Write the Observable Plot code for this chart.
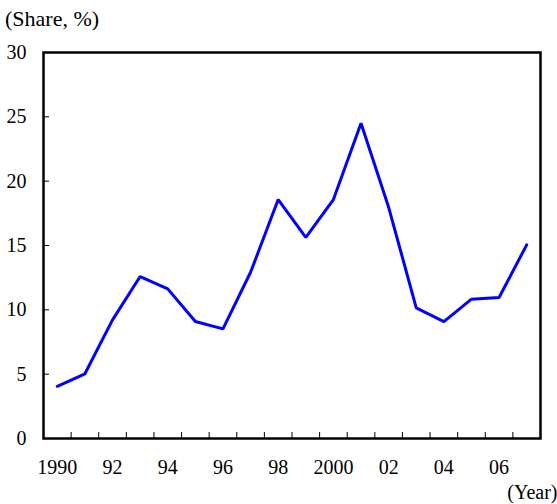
<!DOCTYPE html>
<html>
<head>
<meta charset="utf-8">
<script src="https://cdn.jsdelivr.net/npm/d3@7"></script>
<script src="https://cdn.jsdelivr.net/npm/@observablehq/plot@0.6"></script>
<style>
  body { margin: 0; background: #fff; }
  #wrap { position: relative; width: 557px; font-family: "Liberation Serif", "Times New Roman", serif; }
  #title { height: 40px; font-size: 22px; line-height: 38px; padding-left: 5px; box-sizing: border-box; }
</style>
</head>
<body>
<div id="wrap">
  <div id="title">(Share, %)</div>
  <div id="chart"></div>
</div>
<script>
const years = [1990,1991,1992,1993,1994,1995,1996,1997,1998,1999,2000,2001,2002,2003,2004,2005,2006,2007];
const share = [4.06,5.03,9.22,12.59,11.63,9.09,8.52,12.92,18.57,15.64,18.57,24.5,17.97,10.15,9.09,10.83,10.96,15.05];
const labelYears = [1990,1992,1994,1996,1998,2000,2002,2004,2006];
const yTicks = [0,5,10,15,20,25,30];

const data = years.map((y, i) => ({year: y, value: share[i]}));
const bounds = years.slice(1).map(y => y - 0.5);
const innerTicksY = yTicks.slice(1, -1);
const fmt = y => (y === 1990 || y === 2000) ? String(y) : String(y).slice(2);

const W = 557, H = 464, ML = 43, MR = 17, MT = 12, MB = 66;
const plot = Plot.plot({
  width: W,
  height: H,
  marginLeft: ML,
  marginRight: MR,
  marginTop: MT,
  marginBottom: MB,
  style: {fontFamily: '"Liberation Serif", "Times New Roman", serif', fontSize: "20px", color: "#000", background: "#fff", overflow: "visible"},
  x: {domain: [years[0] - 0.5, years[years.length - 1] + 0.5]},
  y: {domain: [0, 30]},
  marks: [
    Plot.axisY(yTicks, {anchor: "left", tickSize: 0, tickPadding: 17, label: null, fontSize: 20}),
    Plot.axisX(labelYears, {anchor: "bottom", tickSize: 0, tickPadding: 21, tickFormat: fmt, label: null, fontSize: 20}),
    Plot.tickY(innerTicksY, {y: d => d, stroke: "#000", strokeWidth: 1, insetRight: (W - ML - MR) - 6}),
    Plot.tickX(bounds, {x: d => d, stroke: "#000", strokeWidth: 1, insetTop: (H - MT - MB) - 6}),
    Plot.frame({stroke: "#000", strokeWidth: 2.5}),
    Plot.line(data, {x: "year", y: "value", stroke: "#0000ff", strokeWidth: 3, strokeLinejoin: "miter"}),
    Plot.text(["(Year)"], {frameAnchor: "bottom-right", dx: 17, dy: 54, textAnchor: "end", lineAnchor: "middle", fontSize: 20})
  ]
});
document.getElementById("chart").appendChild(plot);
</script>
</body>
</html>
